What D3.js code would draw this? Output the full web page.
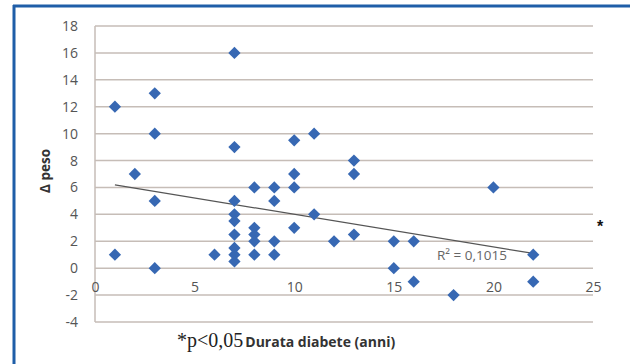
<!DOCTYPE html>
<html>
<head>
<meta charset="utf-8">
<script src="https://cdn.jsdelivr.net/npm/d3@7"></script>
<style>
  html, body { margin: 0; padding: 0; background: #fff; }
  svg { display: block; }
</style>
</head>
<body>
<svg id="chart" width="630" height="364"></svg>
<script>
// Diabetes duration (years) and weight change for each patient
const durata = [1, 1, 2, 3, 3, 3, 3, 6,
  7, 7, 7, 7, 7, 7, 7, 7, 7,
  8, 8, 8, 8, 8,
  9, 9, 9, 9,
  10, 10, 10, 10,
  11, 11, 12, 13, 13, 13,
  15, 15, 16, 16, 18, 20, 22, 22];
const deltaPeso = [12, 1, 7, 13, 10, 5, 0, 1,
  16, 9, 5, 4, 3.5, 2.5, 1.5, 1, 0.5,
  6, 3, 2.5, 2, 1,
  6, 5, 2, 1,
  9.5, 7, 6, 3,
  10, 4, 2, 8, 7, 2.5,
  2, 0, 2, -1, -2, 6, 1, -1];

// Linear trend line (intercept, slope) and its R² label
const trendIntercept = 6.43;
const trendSlope = -0.2424;
const r2Label = "R² = 0,1015";

const xTicks = [0, 5, 10, 15, 20, 25];
const yTicks = [-4, -2, 0, 2, 4, 6, 8, 10, 12, 14, 16, 18];

const svg = d3.select("#chart");

// Blue frame on top and left edges
svg.append("line").attr("x1", 13).attr("x2", 630).attr("y1", 6).attr("y2", 6)
  .attr("stroke", "#1f5ea8").attr("stroke-width", 3);
svg.append("line").attr("x1", 14).attr("x2", 14).attr("y1", 5).attr("y2", 364)
  .attr("stroke", "#1f5ea8").attr("stroke-width", 3);

const x = d3.scaleLinear().domain([0, 25]).range([95, 593]);
const y = d3.scaleLinear().domain([-4, 18]).range([322, 26]);

const gridColor = "#c6bdb7";
// Plain hyphen for negatives
const fmt = d => String(d);

// Horizontal gridlines
svg.append("g")
  .selectAll("line")
  .data(yTicks)
  .join("line")
  .attr("x1", x(0)).attr("x2", x(25))
  .attr("y1", d => y(d)).attr("y2", d => y(d))
  .attr("stroke", gridColor).attr("stroke-width", 1.5);

// Left plot edge
svg.append("line")
  .attr("x1", x(0)).attr("x2", x(0))
  .attr("y1", y(18)).attr("y2", y(-4))
  .attr("stroke", gridColor).attr("stroke-width", 1.5);

// Y axis labels
const yAxis = d3.axisLeft(y).tickValues(yTicks).tickSize(0).tickPadding(17)
  .tickFormat(fmt);
const gy = svg.append("g").attr("transform", `translate(${x(0)},0)`).call(yAxis);
gy.select(".domain").remove();
gy.selectAll("text")
  .attr("font-family", "'Open Sans', sans-serif")
  .attr("font-size", 14).attr("fill", "#555");

// X axis labels, hung on the zero line
const xAxis = d3.axisBottom(x).tickValues(xTicks).tickSize(0).tickPadding(14)
  .tickFormat(fmt);
const gx = svg.append("g").attr("transform", `translate(0,${y(0)})`).call(xAxis);
gx.select(".domain").remove();
gx.selectAll("text")
  .attr("font-family", "'Open Sans', sans-serif")
  .attr("font-size", 14).attr("fill", "#555");

// Trend line over the range of the data
const [xMin, xMax] = d3.extent(durata);
svg.append("line")
  .attr("x1", x(xMin)).attr("y1", y(trendIntercept + trendSlope * xMin))
  .attr("x2", x(xMax)).attr("y2", y(trendIntercept + trendSlope * xMax))
  .attr("stroke", "#555").attr("stroke-width", 1.2);

// Diamond markers
const diamond = d3.symbol().type(d3.symbolDiamond2).size(96);
svg.append("g")
  .selectAll("path")
  .data(durata.map((d, i) => [d, deltaPeso[i]]))
  .join("path")
  .attr("d", diamond)
  .attr("transform", d => `translate(${x(d[0])},${y(d[1])})`)
  .attr("fill", "#3768b3");

// R² label
svg.append("text")
  .attr("x", 437).attr("y", 260)
  .attr("font-family", "'Open Sans', sans-serif")
  .attr("font-size", 13.5).attr("fill", "#666")
  .text(r2Label);

// Significance marker on the right
svg.append("text")
  .attr("x", 600).attr("y", 232)
  .attr("text-anchor", "middle")
  .attr("font-family", "'Liberation Sans', sans-serif")
  .attr("font-size", 16).attr("font-weight", "bold").attr("fill", "#111")
  .text("*");

// Y axis title
svg.append("text")
  .attr("transform", "translate(50,171) rotate(-90)")
  .attr("text-anchor", "middle")
  .attr("font-family", "'Open Sans', sans-serif")
  .attr("font-size", 13.5).attr("font-weight", "bold").attr("fill", "#333")
  .text("Δ peso");

// X axis title with p-value note
const xt = svg.append("text")
  .attr("x", 177).attr("y", 347)
  .attr("fill", "#222");
xt.append("tspan")
  .attr("font-family", "'Liberation Serif', serif")
  .attr("font-size", 20)
  .text("*p<0,05");
xt.append("tspan")
  .attr("dx", 2)
  .attr("font-family", "'Open Sans', sans-serif")
  .attr("font-size", 14).attr("font-weight", "bold").attr("fill", "#333")
  .text("Durata diabete (anni)");
</script>
</body>
</html>
